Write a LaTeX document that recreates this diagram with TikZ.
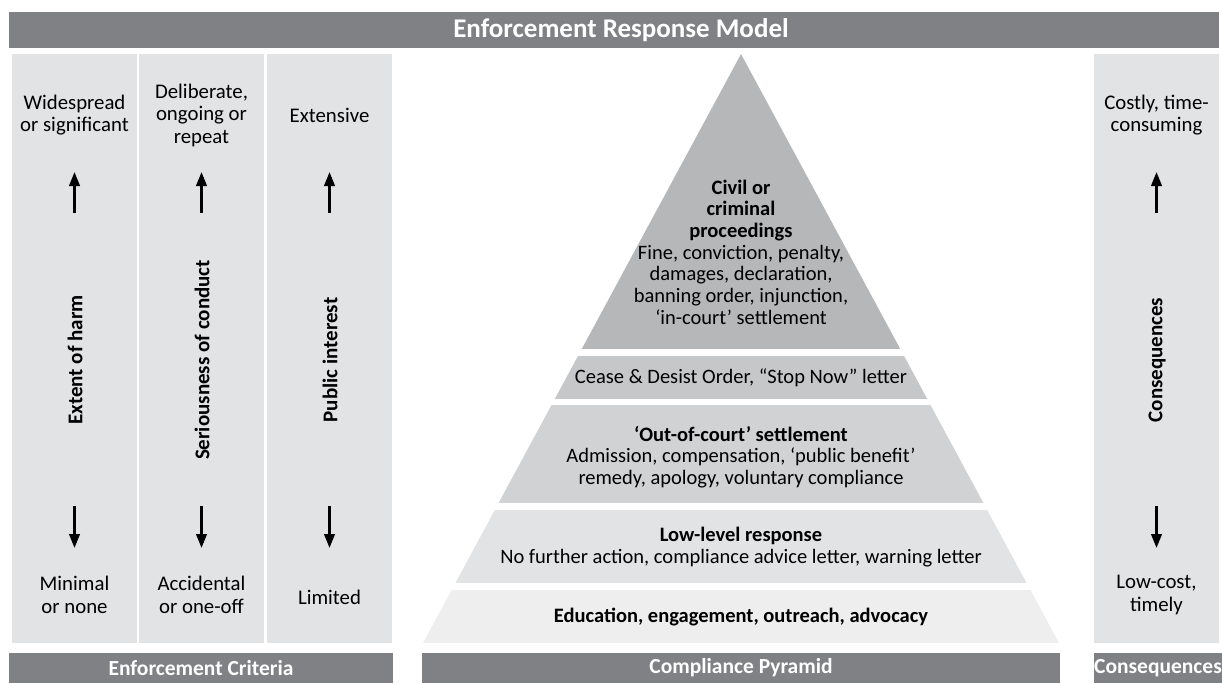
\documentclass[tikz,border=0pt]{standalone}
\usepackage{fontspec}
\setmainfont{Carlito}
\usetikzlibrary{positioning, arrows.meta}
\definecolor{barGray}{RGB}{128,129,132}
\definecolor{colGray}{RGB}{226,227,228}
\definecolor{tierA}{RGB}{182,183,185}
\definecolor{tierB}{RGB}{198,199,201}
\definecolor{tierC}{RGB}{209,210,212}
\definecolor{tierD}{RGB}{226,227,228}
\definecolor{tierE}{RGB}{238,238,239}

\begin{document}
\begin{tikzpicture}[x=1pt, y=-1pt,
    bar/.style={fill=barGray, text=white, inner sep=0,
        font=\fontsize{21.5}{24}\selectfont\bfseries},
    column/.style={fill=colGray, inner sep=0, minimum width=125pt, minimum height=589pt},
    label/.style={align=center, font=\fontsize{20.8}{22.5}\selectfont},
    axis/.style={rotate=90, font=\fontsize{21}{24}\selectfont\bfseries},
    tier/.style={align=center, font=\fontsize{20.5}{21.7}\selectfont},
    updown/.style={line width=2.5pt, -{Triangle[width=10.5pt, length=14pt]}}]
    \clip (0,0) rectangle (1222,683);

    % headers and footers
    \node (title) [bar, minimum width=1210pt, minimum height=36pt,
        font=\fontsize{27}{29}\selectfont\bfseries] at (614,30) {\hspace{14pt}Enforcement Response Model};
    \node (criteria) [bar, minimum width=384pt, minimum height=30pt] at (201,668) {Enforcement Criteria};
    \node (pyramid) [bar, minimum width=638pt, minimum height=30pt] at (741,668) {Compliance Pyramid};
    \node (conseq) [bar, minimum width=128pt, minimum height=30pt] at (1158,668) {Consequences};

    % criteria columns
    \node (harm) [column] at (74.5,348.5) {};
    \node (conduct) [column] at (201.5,348.5) {};
    \node (interest) [column] at (329.5,348.5) {};
    \node (cost) [column] at (1156.5,348.5) {};

    \node (harmhi) [label] at (74.5,115) {Widespread\\or significant};
    \node (conducthi) [label] at (201.5,115) {Deliberate,\\ongoing or\\repeat};
    \node (interesthi) [label] at (329.5,115) {Extensive};
    \node (costhi) [label] at (1156.5,115) {Costly, time-\\consuming};

    \node (harmlo) [label] at (74.5,595) {Minimal\\or none};
    \node (conductlo) [label] at (201.5,595) {Accidental\\or one-off};
    \node (interestlo) [label] at (329.5,597) {Limited};
    \node (costlo) [label] at (1156.5,595) {Low-cost,\\timely};

    \node (harmaxis) [axis] at (75,360) {Extent of harm};
    \node (conductaxis) [axis] at (202,360) {Seriousness of conduct};
    \node (interestaxis) [axis] at (330,360) {Public interest};
    \node (costaxis) [axis] at (1157,360) {Consequences};

    % arrows up and down
    \coordinate (harmA) at (74.5,213);   \coordinate (harmB) at (74.5,172);
    \coordinate (harmC) at (74.5,506);   \coordinate (harmD) at (74.5,548);
    \coordinate (conductA) at (201.5,213); \coordinate (conductB) at (201.5,172);
    \coordinate (conductC) at (201.5,506); \coordinate (conductD) at (201.5,548);
    \coordinate (interestA) at (329.5,213); \coordinate (interestB) at (329.5,172);
    \coordinate (interestC) at (329.5,506); \coordinate (interestD) at (329.5,548);
    \coordinate (costA) at (1156.5,213); \coordinate (costB) at (1156.5,172);
    \coordinate (costC) at (1156.5,506); \coordinate (costD) at (1156.5,548);
    \path [updown]
    (harmA) edge (harmB)
    (harmC) edge (harmD)
    (conductA) edge (conductB)
    (conductC) edge (conductD)
    (interestA) edge (interestB)
    (interestC) edge (interestD)
    (costA) edge (costB)
    (costC) edge (costD);

    % pyramid bands
    \begin{scope}
        \clip (741,54) -- (1059,643) -- (423,643) -- cycle;
        \fill [tierA] (400,50) rectangle (1080,349);
        \fill [tierB] (400,356) rectangle (1080,399);
        \fill [tierC] (400,405) rectangle (1080,503);
        \fill [tierD] (400,510) rectangle (1080,583);
        \fill [tierE] (400,590) rectangle (1080,643);
    \end{scope}

    \node (civil) [tier] at (741,252) {\textbf{Civil or}\\\textbf{criminal}\\\textbf{proceedings}\\Fine, conviction, penalty,\\damages, declaration,\\banning order, injunction,\\‘in-court’ settlement};
    \node (cease) [tier] at (741,378) {Cease \& Desist Order, “Stop Now” letter};
    \node (outcourt) [tier] at (741,457) {\textbf{‘Out-of-court’ settlement}\\Admission, compensation, ‘public benefit’\\remedy, apology, voluntary compliance};
    \node (lowlevel) [tier] at (741,547) {\textbf{Low-level response}\\No further action, compliance advice letter, warning letter};
    \node (education) [tier] at (741,617) {\textbf{Education, engagement, outreach, advocacy}};
\end{tikzpicture}
\end{document}
